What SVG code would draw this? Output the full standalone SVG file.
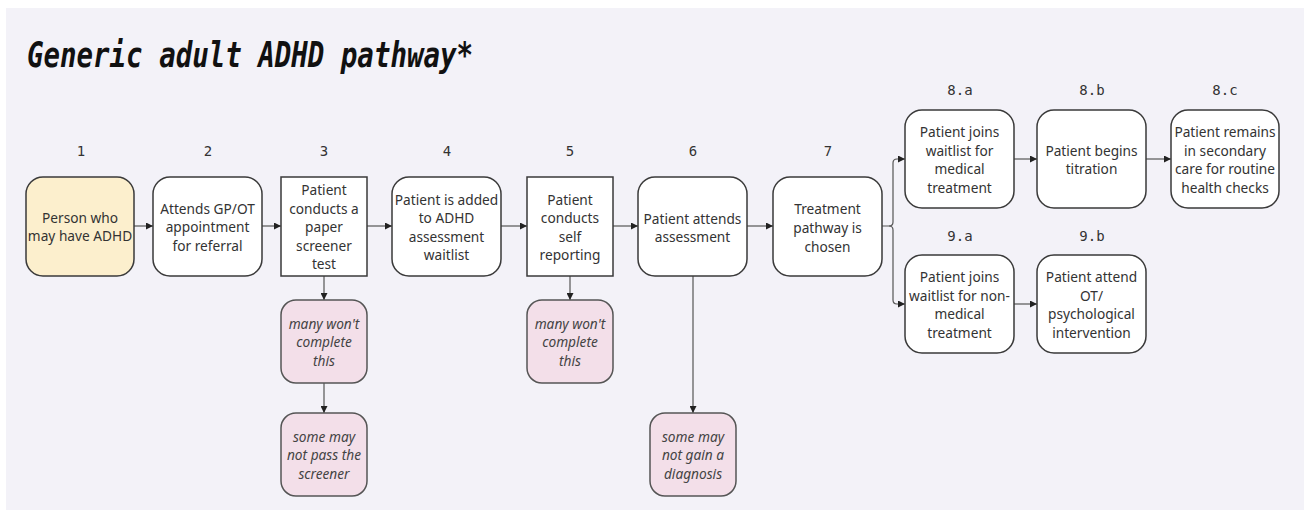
<svg xmlns="http://www.w3.org/2000/svg" width="1304" height="510" viewBox="0 0 1304 510">
<style>
.bg{fill:#f3f2f8}
.n{fill:#ffffff;stroke:#3a3a3a;stroke-width:1.5}
.y{fill:#fcefcd;stroke:#3a3a3a;stroke-width:1.5}
.p{fill:#f3dfe9;stroke:#555;stroke-width:1.5}
.t{font-family:"Noto Sans","DejaVu Sans",sans-serif;font-size:13.7px;fill:#333;text-anchor:middle;dominant-baseline:central}
.i{font-style:italic;fill:#444}
.num{font-family:"DejaVu Sans Mono","Liberation Mono",monospace;font-size:14px;fill:#333;text-anchor:middle;dominant-baseline:central}
.c{fill:none;stroke:#555;stroke-width:1.2}
</style>
<defs>
<marker id="ah" viewBox="0 0 8 8" refX="8" refY="4" markerWidth="7" markerHeight="7" markerUnits="userSpaceOnUse" orient="auto">
<path d="M0,0 L8,4 L0,8 z" fill="#222"/>
</marker>
</defs>
<rect class="bg" x="6" y="8" width="1298" height="502"/>
<text x="27" y="67" font-family="DejaVu Sans Mono,Liberation Mono,monospace" font-weight="bold" font-style="italic" font-size="35" fill="#111" textLength="446" lengthAdjust="spacingAndGlyphs">Generic adult ADHD pathway*</text>

<g id="labels">
<text class="num" x="81" y="151">1</text>
<text class="num" x="208" y="151">2</text>
<text class="num" x="324" y="151">3</text>
<text class="num" x="447" y="151">4</text>
<text class="num" x="570" y="151">5</text>
<text class="num" x="693" y="151">6</text>
<text class="num" x="828" y="151">7</text>
<text class="num" x="960" y="90">8.a</text>
<text class="num" x="1092" y="90">8.b</text>
<text class="num" x="1225" y="90">8.c</text>
<text class="num" x="960" y="236">9.a</text>
<text class="num" x="1092" y="236">9.b</text>
</g>

<g id="connectors">
<path class="c" d="M134,226 H153" marker-end="url(#ah)"/>
<path class="c" d="M262,226 H281" marker-end="url(#ah)"/>
<path class="c" d="M367,226 H392" marker-end="url(#ah)"/>
<path class="c" d="M501,226 H527" marker-end="url(#ah)"/>
<path class="c" d="M613,226 H638" marker-end="url(#ah)"/>
<path class="c" d="M747,226 H773" marker-end="url(#ah)"/>
<path class="c" d="M882,226 H889 Q893,226 893,222 V163 Q893,159 897,159 H905" marker-end="url(#ah)"/>
<path class="c" d="M889,226 Q893,226 893,230 V300 Q893,304 897,304 H905" marker-end="url(#ah)"/>
<path class="c" d="M1014,159 H1037" marker-end="url(#ah)"/>
<path class="c" d="M1146,159 H1171" marker-end="url(#ah)"/>
<path class="c" d="M1014,304 H1037" marker-end="url(#ah)"/>
<path class="c" d="M324,276 V300" marker-end="url(#ah)"/>
<path class="c" d="M324,383 V413" marker-end="url(#ah)"/>
<path class="c" d="M570,276 V300" marker-end="url(#ah)"/>
<path class="c" d="M693,276 V413" marker-end="url(#ah)"/>
</g>

<g id="n1"><rect class="y" x="26" y="177" width="108" height="99" rx="17"/>
<text class="t" x="80" y="217">Person who</text><text class="t" x="80" y="235.5">may have ADHD</text></g>

<g id="n2"><rect class="n" x="153" y="177" width="109" height="99" rx="17"/>
<text class="t" x="207.5" y="208">Attends GP/OT</text><text class="t" x="207.5" y="226.5">appointment</text><text class="t" x="207.5" y="245">for referral</text></g>

<g id="n3"><rect class="n" x="281" y="177" width="86" height="99"/>
<text class="t" x="324" y="189.5">Patient</text><text class="t" x="324" y="208">conducts a</text><text class="t" x="324" y="226.5">paper</text><text class="t" x="324" y="245">screener</text><text class="t" x="324" y="263.5">test</text></g>

<g id="n4"><rect class="n" x="392" y="177" width="109" height="99" rx="17"/>
<text class="t" x="446.5" y="199">Patient is added</text><text class="t" x="446.5" y="217.5">to ADHD</text><text class="t" x="446.5" y="236">assessment</text><text class="t" x="446.5" y="254.5">waitlist</text></g>

<g id="n5"><rect class="n" x="527" y="177" width="86" height="99"/>
<text class="t" x="570" y="199">Patient</text><text class="t" x="570" y="217.5">conducts</text><text class="t" x="570" y="236">self</text><text class="t" x="570" y="254.5">reporting</text></g>

<g id="n6"><rect class="n" x="638" y="177" width="109" height="99" rx="17"/>
<text class="t" x="692.5" y="218">Patient attends</text><text class="t" x="692.5" y="236.5">assessment</text></g>

<g id="n7"><rect class="n" x="773" y="177" width="109" height="99" rx="17"/>
<text class="t" x="827.5" y="208">Treatment</text><text class="t" x="827.5" y="227">pathway is</text><text class="t" x="827.5" y="246">chosen</text></g>

<g id="n8a"><rect class="n" x="905" y="110" width="109" height="98" rx="17"/>
<text class="t" x="959.5" y="131.5">Patient joins</text><text class="t" x="959.5" y="150">waitlist for</text><text class="t" x="959.5" y="168.5">medical</text><text class="t" x="959.5" y="187">treatment</text></g>

<g id="n8b"><rect class="n" x="1037" y="110" width="109" height="98" rx="17"/>
<text class="t" x="1091.5" y="150">Patient begins</text><text class="t" x="1091.5" y="168.5">titration</text></g>

<g id="n8c"><rect class="n" x="1171" y="110" width="108" height="98" rx="17"/>
<text class="t" x="1225" y="131.5">Patient remains</text><text class="t" x="1225" y="150">in secondary</text><text class="t" x="1225" y="168.5">care for routine</text><text class="t" x="1225" y="187">health checks</text></g>

<g id="n9a"><rect class="n" x="905" y="255" width="109" height="98" rx="17"/>
<text class="t" x="959.5" y="276.5">Patient joins</text><text class="t" x="959.5" y="295">waitlist for non-</text><text class="t" x="959.5" y="313.5">medical</text><text class="t" x="959.5" y="332">treatment</text></g>

<g id="n9b"><rect class="n" x="1037" y="255" width="109" height="98" rx="17"/>
<text class="t" x="1091.5" y="276.5">Patient attend</text><text class="t" x="1091.5" y="295">OT/</text><text class="t" x="1091.5" y="313.5">psychological</text><text class="t" x="1091.5" y="332">intervention</text></g>

<g id="p3a"><rect class="p" x="281" y="300" width="86" height="83" rx="15"/>
<text class="t i" x="324" y="323">many won't</text><text class="t i" x="324" y="341.5">complete</text><text class="t i" x="324" y="360">this</text></g>

<g id="p3b"><rect class="p" x="281" y="413" width="86" height="83" rx="15"/>
<text class="t i" x="324" y="436">some may</text><text class="t i" x="324" y="454.5">not pass the</text><text class="t i" x="324" y="473">screener</text></g>

<g id="p5"><rect class="p" x="527" y="300" width="86" height="83" rx="15"/>
<text class="t i" x="570" y="323">many won't</text><text class="t i" x="570" y="341.5">complete</text><text class="t i" x="570" y="360">this</text></g>

<g id="p6"><rect class="p" x="650" y="413" width="86" height="83" rx="15"/>
<text class="t i" x="693" y="436">some may</text><text class="t i" x="693" y="454.5">not gain a</text><text class="t i" x="693" y="473">diagnosis</text></g>
</svg>
